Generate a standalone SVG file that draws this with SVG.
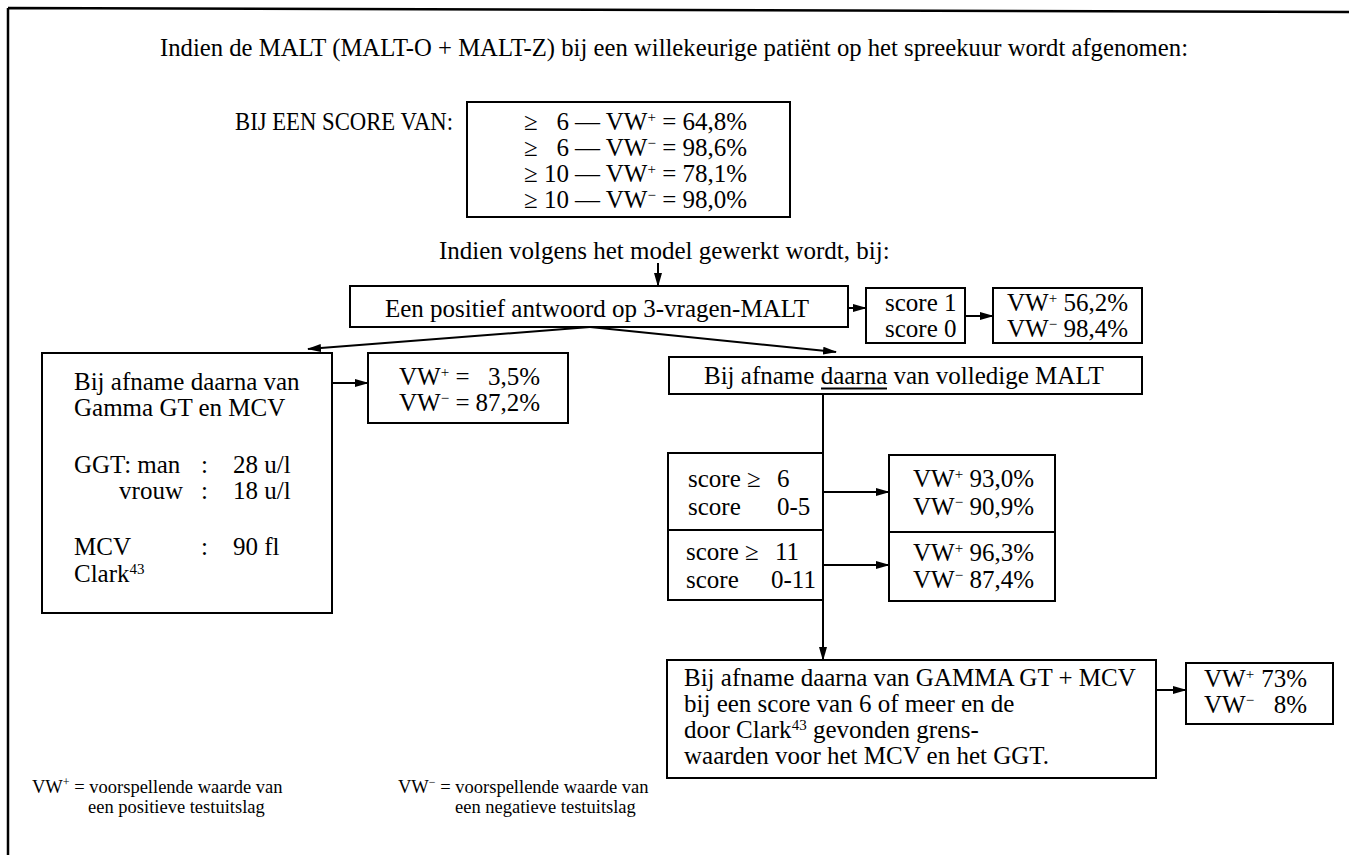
<svg xmlns="http://www.w3.org/2000/svg" width="1349" height="855" viewBox="0 0 1349 855">
<style>
text{font-family:"Liberation Serif","Times New Roman",serif;font-size:25px;fill:#000}
.box{fill:#fff;stroke:#000;stroke-width:2}
.ln{stroke:#000;stroke-width:2;fill:none}
.arr{marker-end:url(#ah)}
.sup{font-size:15px;baseline-shift:super}
.leg{font-size:18.5px}
.legsup{font-size:12px;baseline-shift:super}
.frame{stroke:#000;stroke-width:2.5;fill:none}
</style>
<defs>
<marker id="ah" viewBox="0 0 14 8" refX="13" refY="4" markerWidth="14" markerHeight="8" markerUnits="userSpaceOnUse" orient="auto">
<path d="M0,0 L14,4 L0,8 z" fill="#000"/>
</marker>
</defs>
<rect width="1349" height="855" fill="#fff"/>
<g id="frame">
<path class="frame" d="M8,8 L1349,12 M8,8 L8,855"/>
</g>
<g id="title">
<text x="160" y="56" textLength="1028" lengthAdjust="spacingAndGlyphs" font-size="24">Indien de MALT (MALT-O + MALT-Z) bij een willekeurige patiënt op het spreekuur wordt afgenomen:</text>
</g>
<g id="score-label">
<text x="235" y="130" textLength="218" lengthAdjust="spacingAndGlyphs">BIJ EEN SCORE VAN:</text>
</g>
<g id="score-box">
<rect class="box" x="467" y="102" width="323" height="115"/>
<text x="524" y="130">≥</text><text x="569" y="130" text-anchor="end">6</text><text x="575" y="130">— VW<tspan class="sup">+</tspan> = 64,8%</text>
<text x="524" y="156">≥</text><text x="569" y="156" text-anchor="end">6</text><text x="575" y="156">— VW<tspan class="sup">−</tspan> = 98,6%</text>
<text x="524" y="182">≥</text><text x="569" y="182" text-anchor="end">10</text><text x="575" y="182">— VW<tspan class="sup">+</tspan> = 78,1%</text>
<text x="524" y="208">≥</text><text x="569" y="208" text-anchor="end">10</text><text x="575" y="208">— VW<tspan class="sup">−</tspan> = 98,0%</text>
</g>
<g id="model-label">
<text x="439" y="259">Indien volgens het model gewerkt wordt, bij:</text>
</g>
<g id="node-3vragen">
<rect class="box" x="350" y="286" width="498" height="41"/>
<text x="385" y="317">Een positief antwoord op 3-vragen-MALT</text>
</g>
<g id="node-score10">
<rect class="box" x="866" y="288" width="99" height="55"/>
<text x="885" y="311">score 1</text>
<text x="885" y="337">score 0</text>
</g>
<g id="node-vw-3vragen">
<rect class="box" x="993" y="288" width="149" height="55"/>
<text x="1007" y="311">VW<tspan class="sup">+</tspan> 56,2%</text>
<text x="1007" y="337">VW<tspan class="sup">−</tspan> 98,4%</text>
</g>
<g id="node-gamma">
<rect class="box" x="42" y="353" width="290" height="260"/>
<text x="74" y="390">Bij afname daarna van</text>
<text x="74" y="416">Gamma GT en MCV</text>
<text x="74" y="473">GGT: man</text><text x="201" y="473">:</text><text x="233" y="473">28 u/l</text>
<text x="183" y="499" text-anchor="end">vrouw</text><text x="201" y="499">:</text><text x="233" y="499">18 u/l</text>
<text x="74" y="555">MCV</text><text x="201" y="555">:</text><text x="233" y="555">90 fl</text>
<text x="74" y="582">Clark<tspan class="sup">43</tspan></text>
</g>
<g id="node-vw-gamma">
<rect class="box" x="368" y="353" width="200" height="70"/>
<text x="399" y="385">VW<tspan class="sup">+</tspan> =</text><text x="540" y="385" text-anchor="end">3,5%</text>
<text x="399" y="411">VW<tspan class="sup">−</tspan> =</text><text x="540" y="411" text-anchor="end">87,2%</text>
</g>
<g id="node-volledig">
<rect class="box" x="669" y="357" width="473" height="37"/>
<text x="704" y="384">Bij afname daarna van volledige MALT</text>
<line class="ln" x1="821" y1="388.5" x2="887" y2="388.5" stroke-width="1.5"/>
</g>
<g id="node-scores">
<rect class="box" x="668" y="453" width="155" height="147"/>
<line class="ln" x1="668" y1="530" x2="823" y2="530"/>
<text x="688" y="487">score ≥</text><text x="777" y="487">6</text>
<text x="688" y="515">score</text><text x="777" y="515">0-5</text>
<text x="686" y="560">score ≥</text><text x="775" y="560">11</text>
<text x="686" y="588">score</text><text x="771" y="588">0-11</text>
</g>
<g id="node-vw-scores">
<rect class="box" x="889" y="455" width="166" height="146"/>
<line class="ln" x1="889" y1="532" x2="1055" y2="532"/>
<text x="913" y="487">VW<tspan class="sup">+</tspan> 93,0%</text>
<text x="913" y="515">VW<tspan class="sup">−</tspan> 90,9%</text>
<text x="913" y="561">VW<tspan class="sup">+</tspan> 96,3%</text>
<text x="913" y="588">VW<tspan class="sup">−</tspan> 87,4%</text>
</g>
<g id="node-gammagt-mcv">
<rect class="box" x="667" y="660" width="489" height="118"/>
<text x="684" y="686">Bij afname daarna van GAMMA GT + MCV</text>
<text x="684" y="712">bij een score van 6 of meer en de</text>
<text x="684" y="738">door Clark<tspan class="sup">43</tspan> gevonden grens-</text>
<text x="684" y="764">waarden voor het MCV en het GGT.</text>
</g>
<g id="node-vw-final">
<rect class="box" x="1186" y="663" width="147" height="61"/>
<text x="1204" y="687">VW<tspan class="sup">+</tspan></text><text x="1307" y="687" text-anchor="end">73%</text>
<text x="1204" y="713">VW<tspan class="sup">−</tspan></text><text x="1307" y="713" text-anchor="end">8%</text>
</g>
<g id="connectors">
<line class="ln arr" x1="658" y1="263" x2="658" y2="286"/>
<line class="ln arr" x1="848" y1="308" x2="866" y2="308"/>
<line class="ln arr" x1="965" y1="316" x2="993" y2="316"/>
<line class="ln arr" x1="590" y1="327" x2="308" y2="349"/>
<line class="ln arr" x1="590" y1="327" x2="836" y2="352"/>
<line class="ln arr" x1="332" y1="383" x2="368" y2="383"/>
<line class="ln" x1="823" y1="394" x2="823" y2="600"/>
<line class="ln arr" x1="823" y1="492" x2="889" y2="492"/>
<line class="ln arr" x1="823" y1="565" x2="889" y2="565"/>
<line class="ln arr" x1="823" y1="600" x2="823" y2="660"/>
<line class="ln arr" x1="1156" y1="690" x2="1186" y2="690"/>
</g>
<g id="legend">
<text class="leg" x="32" y="793">VW<tspan class="legsup">+</tspan> = voorspellende waarde van</text>
<text class="leg" x="88" y="813">een positieve testuitslag</text>
<text class="leg" x="398" y="793">VW<tspan class="legsup">−</tspan> = voorspellende waarde van</text>
<text class="leg" x="455" y="813">een negatieve testuitslag</text>
</g>
</svg>
